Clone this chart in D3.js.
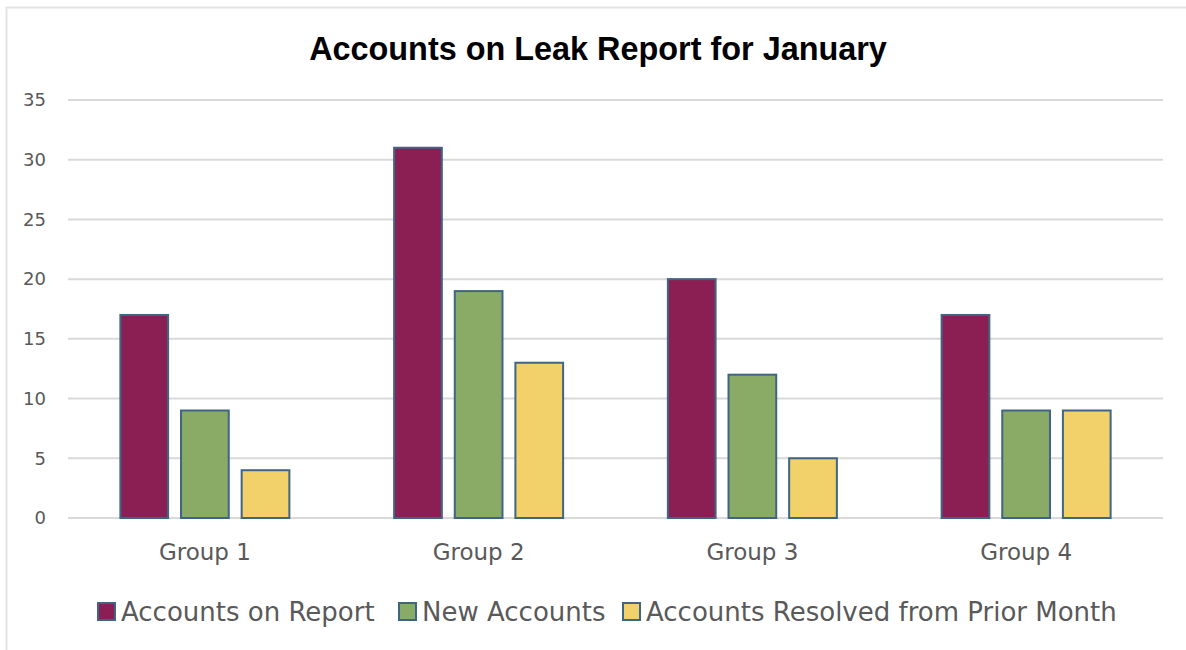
<!DOCTYPE html>
<html>
<head>
<meta charset="utf-8">
<script src="https://cdn.jsdelivr.net/npm/d3@7"></script>
<style>
  body { margin: 0; background: #fff; }
  text { font-family: "DejaVu Sans", sans-serif; }
</style>
</head>
<body>
<svg id="chart" width="1186" height="650"></svg>
<script>
const groups = ["Group 1", "Group 2", "Group 3", "Group 4"];
const seriesNames = ["Accounts on Report", "New Accounts", "Accounts Resolved from Prior Month"];
const accountsOnReport = [17, 31, 20, 17];
const newAccounts = [9, 19, 12, 9];
const resolvedPrior = [4, 13, 5, 9];
const yTicks = [0, 5, 10, 15, 20, 25, 30, 35];
const colors = ["#8b1f53", "#8aab66", "#f2d16b"];

const seriesValues = [accountsOnReport, newAccounts, resolvedPrior];
const data = groups.map((g, i) => ({group: g, values: seriesValues.map(s => s[i])}));

const svg = d3.select("#chart");
const margin = {top: 100, right: 23, bottom: 132, left: 68};
const width = +svg.attr("width");
const height = +svg.attr("height");
const innerW = width - margin.left - margin.right;
const innerH = height - margin.top - margin.bottom;

// frame
svg.append("path")
  .attr("d", `M6.5,650 V7.5 H1186`)
  .attr("fill", "none")
  .attr("stroke", "#e3e3e3")
  .attr("stroke-width", 2);

const g = svg.append("g").attr("transform", `translate(${margin.left},${margin.top})`);

const x0 = d3.scaleBand().domain(groups).range([0, innerW]);
const half = 84.5;
const x1 = d3.scaleBand().domain(d3.range(3))
  .range([x0.bandwidth()/2 - half, x0.bandwidth()/2 + half])
  .paddingInner(0.213);
const y = d3.scaleLinear().domain([0, 35]).range([innerH, 0]);

// gridlines
g.append("g")
  .selectAll("line")
  .data(yTicks)
  .join("line")
    .attr("x1", 0)
    .attr("x2", innerW)
    .attr("y1", d => y(d))
    .attr("y2", d => y(d))
    .attr("stroke", "#d9d9d9")
    .attr("stroke-width", 2);

// y labels
const yAxis = g.append("g")
  .call(d3.axisLeft(y).tickValues(yTicks).tickSize(0).tickPadding(22));
yAxis.select(".domain").remove();
yAxis.selectAll("text")
  .attr("fill", "#595959")
  .style("font-size", "18px")
  .style("font-family", "DejaVu Sans, sans-serif");

// bars
const groupSel = g.selectAll("g.grp")
  .data(data)
  .join("g")
    .attr("class", "grp")
    .attr("transform", d => `translate(${x0(d.group)},0)`);

groupSel.selectAll("rect")
  .data(d => d.values.map((v, i) => ({i, v})))
  .join("rect")
    .attr("x", d => x1(d.i))
    .attr("y", d => y(d.v))
    .attr("width", x1.bandwidth())
    .attr("height", d => innerH - y(d.v))
    .attr("fill", d => colors[d.i])
    .attr("stroke", "#3f6584")
    .attr("stroke-width", 2);

// x labels
const xAxis = g.append("g")
  .attr("transform", `translate(0,${innerH})`)
  .call(d3.axisBottom(x0).tickSize(0).tickPadding(26));
xAxis.select(".domain").remove();
xAxis.selectAll("text")
  .attr("fill", "#595959")
  .style("font-size", "23px")
  .style("font-family", "DejaVu Sans, sans-serif");

// title
svg.append("text")
  .attr("x", 598)
  .attr("y", 60)
  .attr("text-anchor", "middle")
  .attr("font-weight", "bold")
  .attr("font-size", "32.4px")
  .style("font-family", "Liberation Sans, Arial, sans-serif")
  .attr("fill", "#000")
  .text("Accounts on Leak Report for January");

// legend
const legendX = [97, 398, 622];
const legend = svg.append("g").attr("transform", "translate(0,612)");
const items = legend.selectAll("g")
  .data(seriesNames)
  .join("g")
    .attr("transform", (d, i) => `translate(${legendX[i]},0)`);
items.append("rect")
  .attr("x", 1)
  .attr("y", -9)
  .attr("width", 17)
  .attr("height", 17)
  .attr("fill", (d, i) => colors[i])
  .attr("stroke", "#3f6584")
  .attr("stroke-width", 2);
items.append("text")
  .attr("x", 24)
  .attr("y", 9)
  .attr("fill", "#595959")
  .attr("font-size", "26px")
  .text(d => d);
</script>
</body>
</html>
